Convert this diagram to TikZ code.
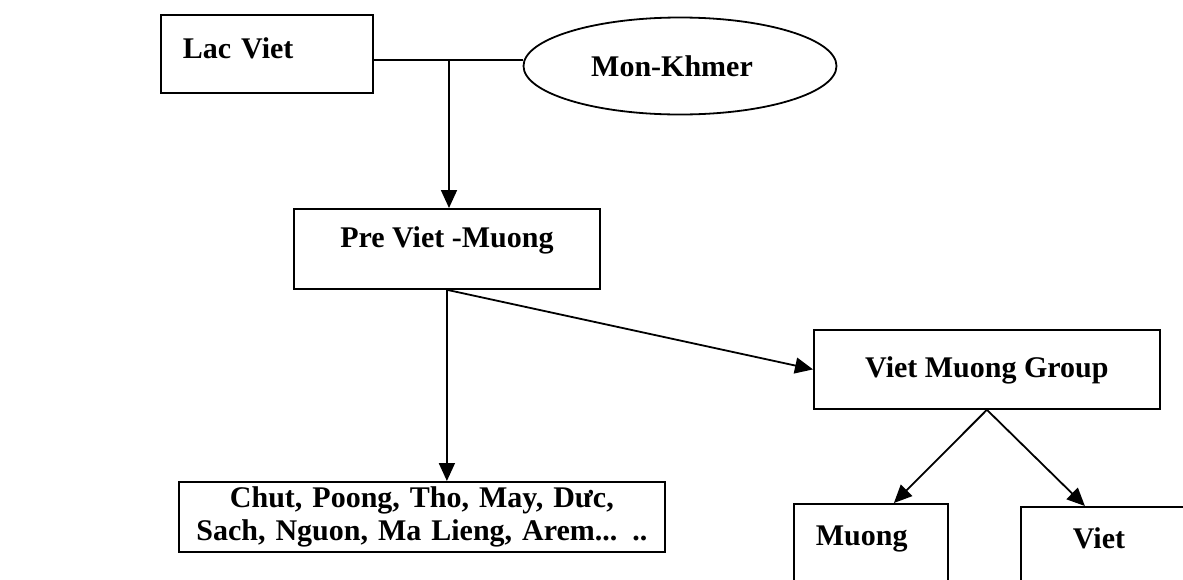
\documentclass[tikz,border=0pt]{standalone}
\usepackage{fontspec}
\setmainfont{Liberation Serif}
\usetikzlibrary{shapes.geometric,arrows.meta,positioning}
\begin{document}
\begin{tikzpicture}[x=1pt,y=-1pt,
  every node/.style={font=\fontsize{30}{33}\selectfont\bfseries},
  box/.style={draw,line width=1.8pt,rectangle,anchor=north west,inner ysep=0pt},
  conn/.style={line width=1.8pt},
  arr/.style={line width=1.8pt,-{Triangle[length=18pt,width=16pt]}}]
\useasboundingbox (0,0) rectangle (1183,579);
\clip (0,0) rectangle (1183,579);
\fill[white] (0,0) rectangle (1183,579);
% boxes
\node[box,inner xsep=22pt,text width=168pt,align=left,text height=44pt,text depth=34pt] (lac) at (160,14) {Lac Viet};
\node[draw,line width=1.8pt,ellipse,minimum width=313pt,minimum height=97pt,inner sep=0pt] (mk) at (680,66) {\hspace*{-16pt}Mon-Khmer};
\node[box,minimum width=306pt,text height=39pt,text depth=41pt] (pvm) at (293,208) {Pre Viet -Muong};
\node[box,minimum width=346pt,text height=48pt,text depth=31pt] (vmg) at (813,329) {Viet Muong Group};
\node[box,minimum width=486pt,minimum height=70pt,inner xsep=0pt,text width=486pt,align=center] (chut) at (178,481) {Chut, Poong, Tho, May, Dưc,\\Sach, Nguon, Ma Lieng, Arem... ..};
\node[box,inner xsep=22pt,text width=110pt,align=left,text height=42pt,text depth=60pt] (muong) at (793,503) {Muong};
\node[box,inner xsep=52pt,text width=110pt,align=left,text height=42pt,text depth=60pt] (viet) at (1020,506) {Viet};
% connectors
\coordinate (J) at (449,60);
\draw[conn] (lac.east |- J) -- (mk.west |- J);
\draw[arr] (J) -- (pvm.north -| J);
\draw[arr] (pvm.south) -- (chut.north -| pvm.south);
\draw[arr] (pvm.south) -- (vmg.west);
\draw[arr] (vmg.south) -- ([xshift=23pt]muong.north);
\draw[arr] (vmg.south) -- ([xshift=-43pt]viet.north);
\end{tikzpicture}
\end{document}
